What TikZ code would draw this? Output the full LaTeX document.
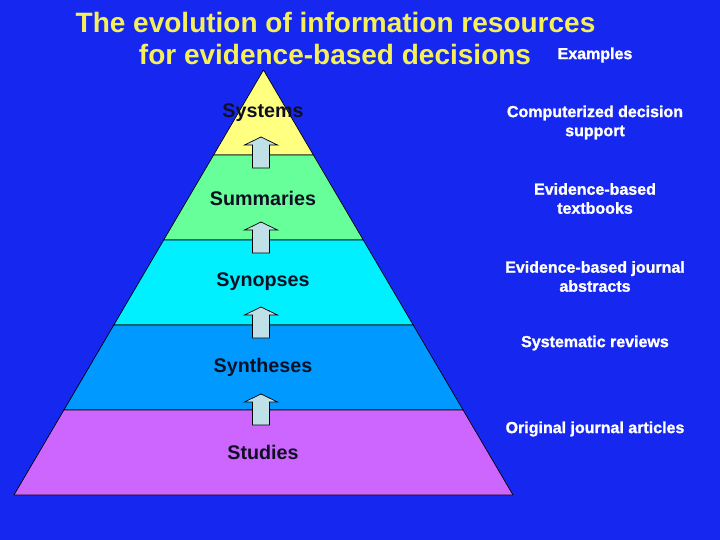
\documentclass[tikz,border=0pt]{standalone}
\usepackage{fontspec}
\setmainfont{Liberation Sans}
\newfontfamily\heavyfont[FakeBold=1.3]{Liberation Sans Bold}
\usetikzlibrary{calc}
\definecolor{bg}{RGB}{22,40,240}
\definecolor{titleyellow}{RGB}{245,240,90}
\definecolor{lyellow}{RGB}{255,255,128}
\definecolor{lgreen}{RGB}{102,255,153}
\definecolor{lcyan}{RGB}{0,240,255}
\definecolor{lblue}{RGB}{0,153,255}
\definecolor{lpurple}{RGB}{204,102,255}
\definecolor{arrowfill}{RGB}{192,224,232}
\definecolor{labeldark}{RGB}{15,15,35}
\tikzset{
  titletext/.style={text=titleyellow, font=\fontsize{28}{30}\selectfont\bfseries, inner sep=0pt},
  layerlabel/.style={text=labeldark, font=\fontsize{19.7}{23}\selectfont\bfseries, inner sep=0pt},
  example/.style={text=white, font=\fontsize{16}{19}\selectfont\heavyfont, align=center, inner sep=0pt},
  layer/.style={draw=black, line width=0.7pt, line join=round},
  uparrow/.style={draw=black, fill=arrowfill, line width=0.7pt, line join=miter}
}
\newcommand{\uparr}[1]{%
  \draw[uparrow] ($(#1)+(0,-17)$) -- ($(#1)+(16.5,-9)$) -- ($(#1)+(8.5,-9)$) -- ($(#1)+(8.5,14)$)
     -- ($(#1)+(-8.5,14)$) -- ($(#1)+(-8.5,-9)$) -- ($(#1)+(-16.5,-9)$) -- cycle;}
\begin{document}
\begin{tikzpicture}[x=1pt,y=-1pt]
\fill[bg] (0,0) rectangle (720,540);
\useasboundingbox (0,0) rectangle (720,540);
% pyramid geometry
\coordinate (A) at (263.5,70);
\coordinate (L) at (14,495);
\coordinate (R) at (513,495);
\foreach \i/\t in {1/0.2,2/0.4,3/0.6,4/0.8}{
  \coordinate (L\i) at ($(A)!\t!(L)$);
  \coordinate (R\i) at ($(A)!\t!(R)$);
}
\draw[layer, fill=lyellow] (A) -- (R1) -- (L1) -- cycle;
\draw[layer, fill=lgreen] (L1) -- (R1) -- (R2) -- (L2) -- cycle;
\draw[layer, fill=lcyan] (L2) -- (R2) -- (R3) -- (L3) -- cycle;
\draw[layer, fill=lblue] (L3) -- (R3) -- (R4) -- (L4) -- cycle;
\draw[layer, fill=lpurple] (L4) -- (R4) -- (R) -- (L) -- cycle;
% title
\node[titletext] (t1) at (335.5,22) {The evolution of information resources};
\node[titletext] (t2) at (335,54) {for evidence-based decisions};
\node[example] (ex) at (595,55) {Examples};
% layer labels
\node[layerlabel] (sys) at (263,113) {Systems};
\node[layerlabel] (sum) at (263,198) {Summaries};
\node[layerlabel] (syn) at (263,282) {Synopses};
\node[layerlabel] (synth) at (263,367) {Syntheses};
\node[layerlabel] (stu) at (263,452) {Studies};
% arrows
\coordinate (a1) at (261,154);
\coordinate (a2) at (261,239);
\coordinate (a3) at (261,324);
\coordinate (a4) at (261,411);
\uparr{a1}\uparr{a2}\uparr{a3}\uparr{a4}
% examples
\node[example] (e1) at (595,122.5) {Computerized decision\\support};
\node[example] (e2) at (595,198.5) {Evidence-based\\textbooks};
\node[example] (e3) at (595,276.5) {Evidence-based journal\\abstracts};
\node[example] (e4) at (595,343) {Systematic reviews};
\node[example] (e5) at (595,429) {Original journal articles};
\end{tikzpicture}
\end{document}
